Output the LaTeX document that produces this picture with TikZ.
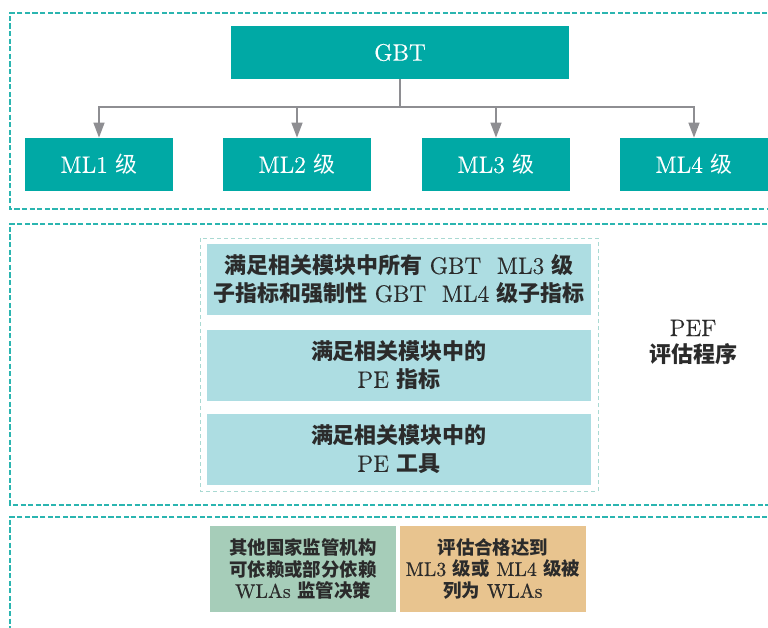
\documentclass[tikz,border=0pt]{standalone}
\usepackage{fontspec}
\setmainfont{Latin Modern Roman}[Scale=1.08, RawFeature={embolden=0.5}]
\newfontfamily\cjk{Noto Sans CJK SC}
\usetikzlibrary{arrows.meta,backgrounds}
\definecolor{tealA}{HTML}{00A9A5}
\definecolor{dashc}{HTML}{2BB5B0}
\definecolor{dashl}{HTML}{A9D9D2}
\definecolor{lblue}{HTML}{ADDDE2}
\definecolor{lgreen}{HTML}{A6CDB9}
\definecolor{lorange}{HTML}{E8C48F}
\definecolor{txt}{HTML}{2B2B2B}
\definecolor{arrc}{HTML}{8E8E92}
\newcommand{\zh}[1]{{\cjk #1}}
\newcommand{\zb}[1]{{\cjk\bfseries #1}}
\begin{document}
\begin{tikzpicture}[x=0.5pt,y=-0.5pt,
  tealbox/.style={fill=tealA, text=white, inner sep=0pt, align=center,
    minimum height=26.5pt, font=\fontsize{11}{13}\selectfont},
  bluebox/.style={fill=lblue, text=txt, inner sep=0pt, align=center,
    minimum width=192pt, minimum height=35.5pt, font=\fontsize{11}{14}\selectfont},
  botbox/.style={text=txt, inner sep=0pt, align=center,
    minimum width=93pt, minimum height=43pt, font=\fontsize{9.2}{10.9}\selectfont},
  outerdash/.style={draw=dashc, line width=1pt, dash pattern=on 2.6pt off 1.2pt},
  innerdash/.style={draw=dashl, line width=0.5pt, dash pattern=on 2pt off 1.5pt},
  arr/.style={draw=arrc, line width=0.8pt, -{Triangle[length=7.5pt,width=5.5pt]}},
  mainline/.style={draw=arrc, line width=0.6pt},
]
\clip (0,0) rectangle (768,628);
\fill[white] (0,0) rectangle (768,628);

% dashed frames
\draw[outerdash] (790,13) -- (10,13) -- (10,209) -- (790,209);
\draw[outerdash] (790,224) -- (10,224) -- (10,505) -- (790,505);
\draw[outerdash] (790,517) -- (10,517) -- (10,660);
\draw[innerdash] (200,238) rectangle (598,491);

% top section
\node[tealbox, minimum width=169pt] (gbt) at (400,52.5) {GBT};
\node[tealbox, minimum width=74pt] (ml1) at (99,164.5) {ML1 \zh{级}};
\node[tealbox, minimum width=74pt] (ml2) at (297,164.5) {ML2 \zh{级}};
\node[tealbox, minimum width=74pt] (ml3) at (496,164.5) {ML3 \zh{级}};
\node[tealbox, minimum width=74pt] (ml4) at (694,164.5) {ML4 \zh{级}};

\coordinate (bus) at (400,107);
\draw[draw=arrc, line width=0.8pt] (gbt.south) -- (bus);
\draw[arr] (bus) -| (ml1.north);
\draw[arr] (bus) -| (ml2.north);
\draw[arr] (bus) -| (ml3.north);
\draw[arr] (bus) -| (ml4.north);

% middle section
\node[bluebox] (c1) at (399,279.5) {\zb{满足相关模块中所有} GBT\ \ ML3 \zb{级}\\\zb{子指标和强制性} GBT\ \ ML4 \zb{级子指标}};
\node[bluebox] (c2) at (399,365.5) {\zb{满足相关模块中的}\\PE \zb{指标}};
\node[bluebox] (c3) at (399,449.5) {\zb{满足相关模块中的}\\PE \zb{工具}};

\node[text=txt, align=center, font=\fontsize{11}{13}\selectfont] (pef) at (693,342) {PEF\\\zb{评估程序}};

% bottom section
\node[botbox, fill=lgreen] (b1) at (303,569) {\zb{其他国家监管机构}\\\zb{可依赖或部分依赖}\\WLAs \zb{监管决策}};
\node[botbox, fill=lorange] (b2) at (493,569) {\zb{评估合格达到}\\ML3 \zb{级或} ML4 \zb{级被}\\\zb{列为} WLAs};

\coordinate (vstart) at (398,209);
\coordinate (vend) at (398,525);
\begin{scope}[on background layer]
\draw[mainline, -{Straight Barb[length=7.5pt,width=5pt]}] (vstart) -- (vend);
\end{scope}
\end{tikzpicture}
\end{document}
